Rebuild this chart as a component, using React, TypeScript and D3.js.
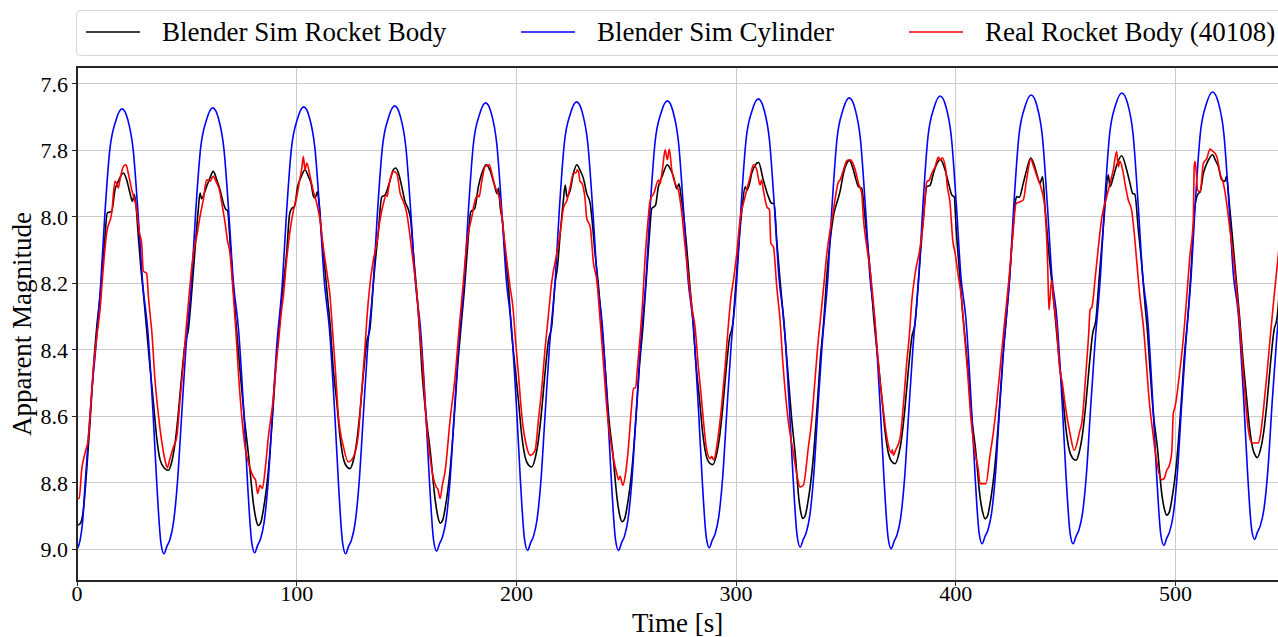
import React from "react";
import * as d3 from "d3";

const xTicks = [0, 100, 200, 300, 400, 500];
const yTicks = [7.6, 7.8, 8.0, 8.2, 8.4, 8.6, 8.8, 9.0];
const seriesNames = ["Blender Sim Rocket Body", "Blender Sim Cylinder", "Real Rocket Body (40108)"];
const seriesColors = ["#000000", "#0000ff", "#ff0000"];
const xLabel = "Time [s]";
const yLabel = "Apparent Magnitude";

// [time s, apparent magnitude]
const blenderRocketBody: [number, number][] = [
  [0, 8.928], [1.4, 8.923], [2.9, 8.882], [4.4, 8.762], [5.9, 8.621], [7.4, 8.461], [9.0, 8.33], [10.5, 8.238], [12.5, 8.08], [13.8, 7.988], [15.8, 7.983], [17.3, 7.918], [18.8, 7.893], [21.1, 7.868], [22.6, 7.888], [24.1, 7.928], [25.2, 7.953], [26.1, 7.933], [26.9, 7.968], [27.9, 8.058], [29.0, 8.148], [30.2, 8.228], [31.7, 8.338], [33.2, 8.45], [34.8, 8.56], [36.3, 8.665], [37.8, 8.73], [39.8, 8.756], [41.6, 8.762], [43.1, 8.737], [44.6, 8.682], [46.1, 8.592], [47.6, 8.481], [49.2, 8.381], [50.7, 8.338], [52.2, 8.228], [53.7, 8.1], [55.2, 7.978], [56.0, 7.928], [56.7, 7.945], [59.0, 7.908], [60.5, 7.883], [62.0, 7.863], [63.6, 7.888], [65.1, 7.918], [66.6, 7.958], [67.8, 7.978], [68.5, 7.98], [69.8, 8.09], [71.0, 8.2], [72.5, 8.33], [74.2, 8.461], [76.1, 8.6], [78.0, 8.712], [80.3, 8.862], [81.5, 8.91], [82.5, 8.928], [83.7, 8.918], [84.8, 8.882], [87.1, 8.762], [89.4, 8.561], [90.4, 8.461], [92.0, 8.33],
  [93.3, 8.24], [95.4, 8.11], [96.8, 7.99], [97.7, 7.975], [99.0, 7.968], [100.4, 7.91], [102.0, 7.88], [103.8, 7.858], [105.3, 7.878], [106.6, 7.9], [107.6, 7.938], [108.4, 7.943], [109.4, 7.924], [110.2, 7.96], [111.4, 8.06], [112.9, 8.16], [114.0, 8.24], [115.4, 8.338], [116.5, 8.445], [118.2, 8.555], [119.7, 8.66], [121.2, 8.725], [122.8, 8.751], [124.3, 8.757], [125.8, 8.732], [127.3, 8.677], [128.8, 8.587], [130.3, 8.476], [131.9, 8.376], [133.4, 8.333],
  [134.9, 8.2], [137.2, 8.04], [138.7, 7.94], [140.2, 7.934], [142.5, 7.89], [144.0, 7.858], [145.1, 7.853], [146.3, 7.868], [147.8, 7.908], [149.3, 7.954], [150.9, 7.979], [151.9, 8.009], [153.1, 8.109], [154.7, 8.23], [155.8, 8.33], [157.0, 8.461], [158.9, 8.6], [160.8, 8.705], [163.1, 8.855], [164.3, 8.903], [165.3, 8.921], [166.5, 8.911], [167.6, 8.875], [169.9, 8.755], [172.2, 8.554], [173.2, 8.454], [174.8, 8.33],
  [176.3, 8.22], [178.0, 8.07], [179.2, 7.985], [181.0, 7.975], [182.7, 7.909], [184.2, 7.87], [186.2, 7.843], [188.0, 7.86], [190.0, 7.905], [191.2, 7.93], [191.9, 7.913], [192.6, 7.969], [193.6, 8.01], [194.9, 8.109], [196.4, 8.21], [197.6, 8.33], [199.2, 8.44], [200.9, 8.55], [202.4, 8.655], [203.9, 8.72], [205.5, 8.746], [207.0, 8.752], [208.5, 8.727], [210.0, 8.672], [211.5, 8.582], [213.0, 8.471], [214.6, 8.371], [216.1, 8.328], [217.6, 8.2],
  [218.7, 8.15], [219.9, 8.054], [221.4, 7.949], [222.2, 7.904], [223.0, 7.939], [224.5, 7.919], [226.0, 7.868], [227.5, 7.843], [229.0, 7.86], [230.5, 7.884], [232.0, 7.929], [233.6, 7.959], [234.3, 7.999], [235.8, 8.11], [237.4, 8.21], [238.9, 8.33], [240.5, 8.461], [242.0, 8.6], [243.8, 8.705], [245.9, 8.851], [247.1, 8.9], [248.1, 8.917], [249.3, 8.907], [250.4, 8.871], [252.7, 8.751], [255.0, 8.55], [256.0, 8.45], [257.6, 8.33],
  [259.0, 8.2], [260.6, 8.05], [261.6, 7.975], [263.3, 7.965], [264.6, 7.91], [266.5, 7.875], [268.7, 7.843], [270.0, 7.855], [271.5, 7.879], [273.0, 7.915], [274.0, 7.9], [275.0, 7.94], [276.2, 8.0], [277.5, 8.09], [279.0, 8.21], [280.6, 8.33], [281.6, 8.43], [283.3, 8.545], [284.8, 8.65], [286.3, 8.715], [287.9, 8.74], [289.4, 8.745], [290.9, 8.72], [292.4, 8.665], [293.9, 8.575], [295.4, 8.464], [297.0, 8.364], [298.5, 8.321], [300.0, 8.19],
  [301.5, 8.06], [302.8, 7.97], [304.1, 7.909], [304.9, 7.92], [306.1, 7.9], [307.1, 7.869], [308.6, 7.845], [310.2, 7.836], [312.4, 7.889], [314.7, 7.939], [316.2, 7.959], [317.3, 7.96], [318.5, 8.07], [320.0, 8.19], [321.9, 8.33], [323.5, 8.46], [325.2, 8.6], [327.0, 8.72], [328.6, 8.85], [329.5, 8.89], [330.3, 8.907], [331.5, 8.897], [332.6, 8.861], [334.9, 8.741], [337.2, 8.54], [338.2, 8.44], [339.8, 8.32],
  [341.5, 8.16], [343.0, 8.06], [344.5, 7.99], [345.8, 7.959], [347.3, 7.924], [348.9, 7.868], [350.3, 7.84], [351.6, 7.83], [353.0, 7.85], [354.2, 7.879], [355.7, 7.909], [357.2, 7.914], [358.2, 7.97], [359.5, 8.06], [361.0, 8.16], [362.6, 8.3], [364.6, 8.43], [366.3, 8.54], [367.8, 8.645], [369.3, 8.71], [370.9, 8.736], [372.4, 8.742], [373.9, 8.717], [375.4, 8.662], [376.9, 8.572], [378.4, 8.461], [380.0, 8.361], [381.5, 8.318], [383.0, 8.19],
  [384.5, 8.06], [385.8, 7.96], [386.8, 7.909], [388.3, 7.905], [389.8, 7.869], [391.4, 7.84], [392.9, 7.826], [395.1, 7.858], [396.7, 7.899], [398.2, 7.934], [399.3, 7.94], [400.2, 8.04], [401.5, 8.15], [403.0, 8.28], [404.3, 8.37], [405.5, 8.46], [407.2, 8.6], [409.0, 8.7], [411.1, 8.846], [412.3, 8.89], [413.3, 8.908], [414.5, 8.898], [415.6, 8.862], [417.9, 8.742], [420.2, 8.541], [421.2, 8.441], [422.8, 8.32],
  [424.3, 8.2], [425.8, 8.06], [427.0, 7.96], [427.7, 7.939], [428.9, 7.941], [430.7, 7.899], [432.2, 7.86], [434.1, 7.823], [435.5, 7.84], [436.8, 7.869], [438.3, 7.899], [439.5, 7.879], [440.6, 7.969], [442.1, 8.09], [443.6, 8.19], [445.1, 8.29], [446.9, 8.42], [448.6, 8.53], [450.1, 8.635], [451.6, 8.7], [453.2, 8.726], [454.7, 8.732], [456.2, 8.707], [457.7, 8.652], [459.2, 8.562], [460.7, 8.451], [462.3, 8.351], [463.8, 8.308], [465.3, 8.18],
  [466.8, 8.06], [468.0, 7.96], [469.4, 7.873], [470.2, 7.909], [471.7, 7.88], [473.2, 7.845], [475.5, 7.816], [477.8, 7.859], [479.3, 7.899], [480.5, 7.929], [481.5, 7.932], [483.1, 8.04], [484.6, 8.14], [486.2, 8.27], [487.3, 8.35], [488.3, 8.45], [489.9, 8.59], [491.7, 8.69], [493.8, 8.835], [495.0, 8.88], [496.0, 8.897], [497.2, 8.887], [498.3, 8.851], [500.6, 8.731], [502.9, 8.53], [503.9, 8.43], [505.5, 8.31],
  [507.0, 8.17], [508.0, 8.05], [508.9, 7.965], [510.4, 7.929], [511.2, 7.925], [512.7, 7.869], [514.9, 7.83], [516.9, 7.813], [518.2, 7.83], [519.5, 7.848], [521.0, 7.888], [522.5, 7.893], [523.2, 7.878], [524.5, 7.959], [526.3, 8.09], [527.8, 8.2], [529.3, 8.31], [530.6, 8.42], [532.1, 8.525], [533.6, 8.628], [535.1, 8.695], [536.5, 8.72], [537.2, 8.724], [538.7, 8.699], [540.2, 8.644], [541.7, 8.554], [543.2, 8.443], [544.8, 8.343], [546.3, 8.3], [547.8, 8.17],
];

const blenderCylinder: [number, number][] = [
  [0, 9.0], [1.4, 8.973], [2.6, 8.913], [3.6, 8.812], [5.2, 8.662], [6.8, 8.52], [8.6, 8.39],
  [10.8, 8.2], [12.6, 8.0], [14.9, 7.8], [17.7, 7.71], [20.5, 7.675], [23.1, 7.707], [25.6, 7.8], [27.9, 8.0], [29.9, 8.2], [32.2, 8.34], [34.7, 8.6], [36.3, 8.8], [38.2, 8.98], [39.6, 9.013], [40.9, 8.991], [42.3, 8.97], [43.9, 8.92], [45.7, 8.8], [47.6, 8.6], [49.5, 8.4],
  [52.1, 8.198], [53.9, 7.998], [56.2, 7.797], [59.0, 7.707], [61.8, 7.672], [64.4, 7.704], [66.9, 7.797], [69.2, 7.998], [71.2, 8.198], [73.5, 8.337], [76.0, 8.597], [77.6, 8.797], [79.5, 8.977], [80.9, 9.01], [82.2, 8.988], [83.6, 8.967], [85.2, 8.917], [87.0, 8.797], [88.9, 8.597], [90.8, 8.398],
  [93.5, 8.196], [95.3, 7.995], [97.6, 7.794], [100.4, 7.704], [103.2, 7.669], [105.8, 7.701], [108.3, 7.794], [110.6, 7.995], [112.6, 8.196], [114.9, 8.337], [117.4, 8.6], [119.0, 8.8], [120.9, 8.98], [122.3, 9.013], [123.6, 8.991], [125.0, 8.97], [126.6, 8.92], [128.4, 8.8], [130.3, 8.6], [132.2, 8.4],
  [134.9, 8.195], [136.7, 7.993], [139.0, 7.791], [141.8, 7.701], [144.6, 7.666], [147.2, 7.698], [149.7, 7.791], [152.0, 7.993], [154.0, 8.195], [156.3, 8.332], [158.8, 8.592], [160.4, 8.792], [162.3, 8.972], [163.7, 9.005], [165.0, 8.983], [166.4, 8.962], [168.0, 8.912], [169.8, 8.792], [171.7, 8.592], [173.6, 8.396],
  [176.3, 8.189], [178.1, 7.986], [180.4, 7.782], [183.2, 7.692], [186.0, 7.657], [188.6, 7.689], [191.1, 7.782], [193.4, 7.986], [195.4, 8.189], [197.7, 8.326], [200.2, 8.59], [201.8, 8.79], [203.7, 8.97], [205.1, 9.003], [206.4, 8.981], [207.8, 8.96], [209.4, 8.91], [211.2, 8.79], [213.1, 8.59], [215.0, 8.395],
  [217.7, 8.187], [219.5, 7.983], [221.8, 7.779], [224.6, 7.689], [227.4, 7.654], [230.0, 7.686], [232.5, 7.779], [234.8, 7.983], [236.8, 8.187], [239.1, 8.325], [241.6, 8.59], [243.2, 8.79], [245.1, 8.97], [246.5, 9.003], [247.8, 8.981], [249.2, 8.96], [250.8, 8.91], [252.6, 8.79], [254.5, 8.59], [256.4, 8.395],
  [259.0, 8.186], [260.8, 7.981], [263.1, 7.776], [265.9, 7.686], [268.7, 7.651], [271.3, 7.683], [273.8, 7.776], [276.1, 7.981], [278.1, 8.186], [280.4, 8.319], [282.9, 8.582], [284.5, 8.782], [286.4, 8.962], [287.8, 8.995], [289.1, 8.973], [290.5, 8.952], [292.1, 8.902], [293.9, 8.782], [295.8, 8.582], [297.7, 8.391],
  [300.4, 8.182], [302.2, 7.976], [304.5, 7.77], [307.3, 7.68], [310.1, 7.645], [312.7, 7.677], [315.2, 7.77], [317.5, 7.976], [319.5, 8.182], [321.8, 8.315], [324.3, 8.58], [325.9, 8.78], [327.8, 8.96], [329.2, 8.993], [330.5, 8.971], [331.9, 8.95], [333.5, 8.9], [335.3, 8.78], [337.2, 8.58], [339.1, 8.39],
  [341.8, 8.18], [343.6, 7.974], [345.9, 7.767], [348.7, 7.677], [351.5, 7.642], [354.1, 7.674], [356.6, 7.767], [358.9, 7.974], [360.9, 8.18], [363.2, 8.316], [365.7, 8.585], [367.3, 8.785], [369.2, 8.965], [370.6, 8.998], [371.9, 8.976], [373.3, 8.955], [374.9, 8.905], [376.7, 8.785], [378.6, 8.585], [380.5, 8.393],
  [383.2, 8.177], [385.0, 7.969], [387.3, 7.761], [390.1, 7.671], [392.9, 7.636], [395.5, 7.668], [398.0, 7.761], [400.3, 7.969], [402.3, 8.177], [404.6, 8.306], [407.1, 8.57], [408.7, 8.77], [410.6, 8.95], [412.0, 8.983], [413.3, 8.961], [414.7, 8.94], [416.3, 8.89], [418.1, 8.77], [420.0, 8.57], [421.9, 8.385],
  [424.6, 8.175], [426.4, 7.966], [428.7, 7.758], [431.5, 7.668], [434.3, 7.633], [436.9, 7.665], [439.4, 7.758], [441.7, 7.966], [443.7, 8.175], [446.0, 8.304], [448.5, 8.57], [450.1, 8.77], [452.0, 8.95], [453.4, 8.983], [454.7, 8.961], [456.1, 8.94], [457.7, 8.89], [459.5, 8.77], [461.4, 8.57], [463.3, 8.385],
  [465.9, 8.171], [467.7, 7.962], [470.0, 7.752], [472.8, 7.662], [475.6, 7.627], [478.2, 7.659], [480.7, 7.752], [483.0, 7.962], [485.0, 8.171], [487.3, 8.304], [489.8, 8.575], [491.4, 8.775], [493.3, 8.955], [494.7, 8.988], [496.0, 8.966], [497.4, 8.945], [499.0, 8.895], [500.8, 8.775], [502.7, 8.575], [504.6, 8.388],
  [507.2, 8.169], [509.0, 7.959], [511.3, 7.749], [514.1, 7.659], [516.9, 7.624], [519.5, 7.656], [522.0, 7.749], [524.3, 7.959], [526.3, 8.169], [528.6, 8.293], [531.1, 8.557], [532.7, 8.757], [534.6, 8.937], [536.0, 8.97], [537.3, 8.948], [538.7, 8.927], [540.3, 8.877], [542.1, 8.757], [544.0, 8.557], [545.9, 8.379], [547.5, 8.26],
];

const realRocketBody: [number, number][] = [
  [0, 8.847], [1.0, 8.847], [2.1, 8.762], [3.6, 8.712], [4.4, 8.692], [5.1, 8.67], [5.9, 8.601], [7.4, 8.461], [9.0, 8.36], [10.5, 8.278], [12.0, 8.15], [13.5, 8.048], [15.8, 7.988], [17.3, 7.893], [18.0, 7.898], [18.8, 7.913], [19.5, 7.89], [21.1, 7.848], [22.3, 7.843], [23.4, 7.87], [24.9, 7.918], [26.9, 7.968], [28.4, 8.048], [29.4, 8.078], [30.2, 8.163], [31.7, 8.17], [32.5, 8.238], [33.5, 8.308], [34.0, 8.341], [35.5, 8.49], [37.0, 8.592], [38.5, 8.672], [40.1, 8.732], [41.1, 8.754], [42.3, 8.727], [43.9, 8.692], [45.4, 8.662], [46.9, 8.551], [48.4, 8.441], [49.6, 8.341], [51.4, 8.208], [53.0, 8.108], [54.5, 8.058], [56.0, 7.998], [57.5, 7.948], [59.0, 7.888], [60.5, 7.893], [62.0, 7.878], [63.6, 7.898], [64.8, 7.918], [65.9, 7.958], [67.4, 8.018], [68.4, 8.068], [69.6, 8.108], [71.0, 8.22], [72.3, 8.34], [73.4, 8.461], [76.5, 8.692], [78.5, 8.75], [80.3, 8.782], [81.3, 8.792], [82.2, 8.832], [83.3, 8.807], [84.4, 8.817], [85.6, 8.762], [87.1, 8.662], [89.4, 8.541], [90.4, 8.461],
  [91.8, 8.37], [93.2, 8.275], [93.9, 8.24], [95.4, 8.13], [97.0, 8.04], [98.5, 7.98], [100.0, 7.94], [101.5, 7.884], [102.4, 7.85], [103.0, 7.818], [103.8, 7.858], [104.6, 7.838], [106.1, 7.878], [107.6, 7.923], [109.1, 7.958], [110.6, 8.008], [112.3, 8.1], [113.8, 8.17], [115.2, 8.24], [116.4, 8.35], [117.5, 8.45], [119.0, 8.6], [121.3, 8.692], [123.5, 8.737], [125.8, 8.722], [128.1, 8.652], [129.6, 8.521], [131.0, 8.4], [131.9, 8.31],
  [133.4, 8.2], [134.9, 8.13], [136.4, 8.08], [137.9, 8.01], [139.5, 7.959], [140.7, 7.934], [141.2, 7.938], [141.6, 7.923], [142.5, 7.889], [144.0, 7.863], [145.6, 7.87], [147.1, 7.929], [148.6, 7.954], [150.1, 7.989], [151.6, 8.059], [153.1, 8.14], [154.7, 8.23], [156.2, 8.36], [157.5, 8.46], [159.0, 8.62], [160.7, 8.722], [162.0, 8.78], [163.5, 8.812], [164.3, 8.82], [165.3, 8.847], [166.2, 8.81], [167.6, 8.762], [169.8, 8.612], [172.1, 8.48],
  [174.0, 8.33], [175.8, 8.2], [177.4, 8.08], [179.7, 8.0], [181.2, 7.95], [182.3, 7.934], [183.0, 7.94], [184.2, 7.894], [185.8, 7.848], [187.7, 7.843], [188.8, 7.869], [190.3, 7.908], [192.6, 7.954], [194.1, 8.04], [195.6, 8.13], [197.1, 8.21], [198.4, 8.27], [199.7, 8.38], [200.9, 8.47], [202.5, 8.6], [204.7, 8.692], [206.3, 8.717], [208.5, 8.702], [210.0, 8.612], [211.6, 8.511], [213.0, 8.4], [214.5, 8.3],
  [216.0, 8.2], [218.4, 8.109], [219.9, 8.049], [221.4, 7.974], [223.0, 7.95], [224.5, 7.909], [226.0, 7.868], [227.1, 7.868], [227.7, 7.858], [228.3, 7.865], [229.0, 7.893], [229.8, 7.898], [231.3, 7.949], [232.0, 8.004], [233.6, 8.03], [235.1, 8.14], [236.6, 8.19], [238.1, 8.31], [239.5, 8.43], [241.5, 8.6], [243.5, 8.7], [245.7, 8.772], [246.5, 8.79], [247.2, 8.78], [248.4, 8.807], [249.5, 8.78], [251.0, 8.692], [252.3, 8.58], [253.3, 8.516], [254.3, 8.513], [255.0, 8.461],
  [256.3, 8.36], [257.5, 8.25], [258.6, 8.12], [259.8, 8.02], [260.9, 7.949], [262.5, 7.93], [264.7, 7.889], [265.4, 7.9], [266.6, 7.85], [267.7, 7.798], [268.7, 7.828], [269.6, 7.796], [270.7, 7.858], [272.2, 7.898], [273.7, 7.919], [275.3, 7.989], [276.8, 8.09], [278.3, 8.18], [279.8, 8.27], [281.3, 8.33], [282.8, 8.45], [284.0, 8.53], [285.1, 8.611], [286.6, 8.7], [288.2, 8.727], [288.9, 8.72], [289.7, 8.73], [292.0, 8.652], [293.5, 8.561], [295.0, 8.45], [296.3, 8.34],
  [297.5, 8.25], [299.0, 8.18], [300.3, 8.11], [301.8, 8.009], [304.1, 7.939], [306.4, 7.879], [307.9, 7.843], [309.4, 7.858], [310.9, 7.904], [311.6, 7.889], [312.4, 7.919], [314.0, 7.969], [315.2, 7.979], [315.8, 8.079], [317.0, 8.09], [318.5, 8.21], [320.0, 8.31], [321.3, 8.44], [323.5, 8.6], [326.1, 8.712], [327.8, 8.78], [329.1, 8.812], [330.6, 8.807], [332.9, 8.692], [334.4, 8.612], [335.8, 8.5], [337.0, 8.4],
  [338.5, 8.3], [340.0, 8.2], [341.3, 8.11], [342.8, 8.04], [344.3, 7.98], [345.2, 7.94], [346.6, 7.894], [347.3, 7.889], [348.9, 7.858], [350.5, 7.83], [351.7, 7.828], [352.4, 7.83], [354.2, 7.858], [355.7, 7.899], [357.2, 7.93], [358.0, 8.009], [359.5, 8.09], [361.0, 8.16], [362.5, 8.26], [364.0, 8.38], [365.3, 8.48], [367.0, 8.58], [368.6, 8.662], [370.8, 8.71], [371.1, 8.7], [371.6, 8.717], [372.4, 8.705], [374.7, 8.662], [376.2, 8.561], [377.5, 8.45], [378.8, 8.36],
  [380.0, 8.25], [381.5, 8.17], [383.8, 8.09], [385.3, 8.009], [386.8, 7.894], [388.0, 7.889], [389.0, 7.87], [390.5, 7.85], [392.1, 7.82], [393.0, 7.83], [393.8, 7.822], [395.5, 7.86], [396.0, 7.9], [397.4, 7.959], [398.6, 8.069], [399.7, 8.11], [401.2, 8.18], [402.7, 8.25], [404.0, 8.36], [405.3, 8.46], [406.8, 8.6], [408.5, 8.7], [410.3, 8.762], [411.0, 8.802], [413.7, 8.802], [415.5, 8.72], [417.1, 8.647], [418.6, 8.561], [420.1, 8.46],
  [422.0, 8.33], [424.0, 8.2], [426.0, 8.05], [427.4, 7.96], [429.0, 7.955], [430.7, 7.949], [432.2, 7.889], [434.1, 7.826], [435.5, 7.85], [436.8, 7.875], [439.1, 7.919], [440.6, 7.979], [441.8, 8.14], [442.4, 8.28], [443.6, 8.19], [444.7, 8.26], [445.9, 8.33], [447.2, 8.45], [448.5, 8.5], [449.7, 8.561], [452.0, 8.652], [453.9, 8.702], [456.5, 8.642], [457.3, 8.622], [459.3, 8.461],
  [460.5, 8.35], [461.1, 8.28], [462.0, 8.27], [463.5, 8.18], [464.9, 8.09], [466.5, 8.0], [468.7, 7.939], [470.2, 7.899], [471.7, 7.858], [473.2, 7.803], [474.0, 7.849], [474.7, 7.833], [476.0, 7.86], [477.0, 7.899], [478.5, 7.949], [480.0, 7.979], [481.1, 8.04], [482.3, 8.13], [483.8, 8.24], [485.4, 8.33], [486.5, 8.42], [488.0, 8.55], [489.9, 8.66], [490.7, 8.702], [493.7, 8.79], [494.8, 8.787], [496.0, 8.762], [497.2, 8.747], [498.3, 8.707], [499.0, 8.591], [499.8, 8.571], [502.0, 8.461],
  [503.5, 8.37], [505.0, 8.25], [506.5, 8.12], [508.1, 8.009], [508.5, 7.85], [508.9, 7.833], [509.5, 7.87], [510.0, 7.919], [511.2, 7.925], [512.7, 7.838], [514.2, 7.825], [515.7, 7.796], [517.0, 7.803], [517.9, 7.808], [519.0, 7.823], [520.3, 7.869], [521.8, 7.899], [523.3, 7.959], [524.8, 8.04], [526.3, 8.12], [527.8, 8.22], [529.3, 8.33], [530.6, 8.45], [531.8, 8.55], [533.2, 8.642], [534.7, 8.68], [537.7, 8.68], [538.5, 8.662], [540.0, 8.581], [541.5, 8.481], [543.0, 8.37], [545.0, 8.23], [547.0, 8.1],
];

const seriesData = [blenderRocketBody, blenderCylinder, realRocketBody];

const W = 1278;
const H = 637;
const FONT = "'Liberation Serif', 'Times New Roman', serif";

export default function App() {
  const x = d3.scaleLinear().domain([0, 546.7]).range([77, 1278.1]);
  const y = d3.scaleLinear().domain([7.549, 9.095]).range([67, 581]);
  const [x0, x1] = x.range();
  const [y0, y1] = y.range();

  const line = d3
    .line<[number, number]>()
    .x((d) => x(d[0]))
    .y((d) => y(d[1]))
    .curve(d3.curveMonotoneX);

  const legendX = [86, 521, 909];

  return (
    <svg
      width={W}
      height={H}
      viewBox={`0 0 ${W} ${H}`}
      style={{ position: "absolute", left: 0, top: 0, background: "#fff" }}
      fontFamily={FONT}
    >
      <defs>
        <clipPath id="plotClip">
          <rect x={x0} y={y0} width={x1 - x0} height={y1 - y0} />
        </clipPath>
      </defs>
      <rect x={0} y={0} width={W} height={H} fill="#fff" />

      {/* grid */}
      <g stroke="#cbcbcb" strokeWidth={1} shapeRendering="crispEdges">
        {xTicks.map((t) => (
          <line key={"gx" + t} x1={x(t)} x2={x(t)} y1={y0} y2={y1} />
        ))}
        {yTicks.map((t) => (
          <line key={"gy" + t} x1={x0} x2={x1} y1={y(t)} y2={y(t)} />
        ))}
      </g>

      {/* series */}
      <g clipPath="url(#plotClip)" fill="none" strokeWidth={1.6} strokeLinejoin="round">
        {seriesData.map((s, i) => (
          <path key={i} d={line(s) || ""} stroke={seriesColors[i]} />
        ))}
      </g>

      {/* spines */}
      <rect
        x={x0}
        y={y0}
        width={x1 - x0}
        height={y1 - y0}
        fill="none"
        stroke="#262626"
        strokeWidth={1.1}
        shapeRendering="crispEdges"
      />

      {/* x ticks */}
      <g>
        {xTicks.map((t) => (
          <g key={"xt" + t}>
            <line x1={x(t)} x2={x(t)} y1={y1} y2={y1 + 5} stroke="#262626" strokeWidth={1} shapeRendering="crispEdges" />
            <text x={x(t)} y={y1 + 20} textAnchor="middle" fontSize={22} fill="#000">
              {t}
            </text>
          </g>
        ))}
      </g>

      {/* y ticks */}
      <g>
        {yTicks.map((t) => (
          <g key={"yt" + t}>
            <line x1={x0 - 5} x2={x0} y1={y(t)} y2={y(t)} stroke="#262626" strokeWidth={1} shapeRendering="crispEdges" />
            <text x={x0 - 9} y={y(t)} dy="0.35em" textAnchor="end" fontSize={22} fill="#000">
              {t.toFixed(1)}
            </text>
          </g>
        ))}
      </g>

      {/* axis labels */}
      <text x={(x0 + x1) / 2} y={632} textAnchor="middle" fontSize={27} fill="#000">
        {xLabel}
      </text>
      <text
        transform={`translate(31, ${(y0 + y1) / 2}) rotate(-90)`}
        textAnchor="middle"
        fontSize={27}
        fill="#000"
      >
        {yLabel}
      </text>

      {/* legend */}
      <rect x={76.5} y={10.5} width={1215} height={45} rx={4} ry={4} fill="#fff" fillOpacity={0.8} stroke="#d6d6d6" strokeWidth={1} />
      {seriesNames.map((name, i) => (
        <g key={"lg" + i}>
          <line x1={legendX[i]} x2={legendX[i] + 54} y1={32} y2={32} stroke={seriesColors[i]} strokeWidth={1.6} />
          <text x={legendX[i] + 76} y={41} fontSize={27} fill="#000">
            {name}
          </text>
        </g>
      ))}
    </svg>
  );
}
